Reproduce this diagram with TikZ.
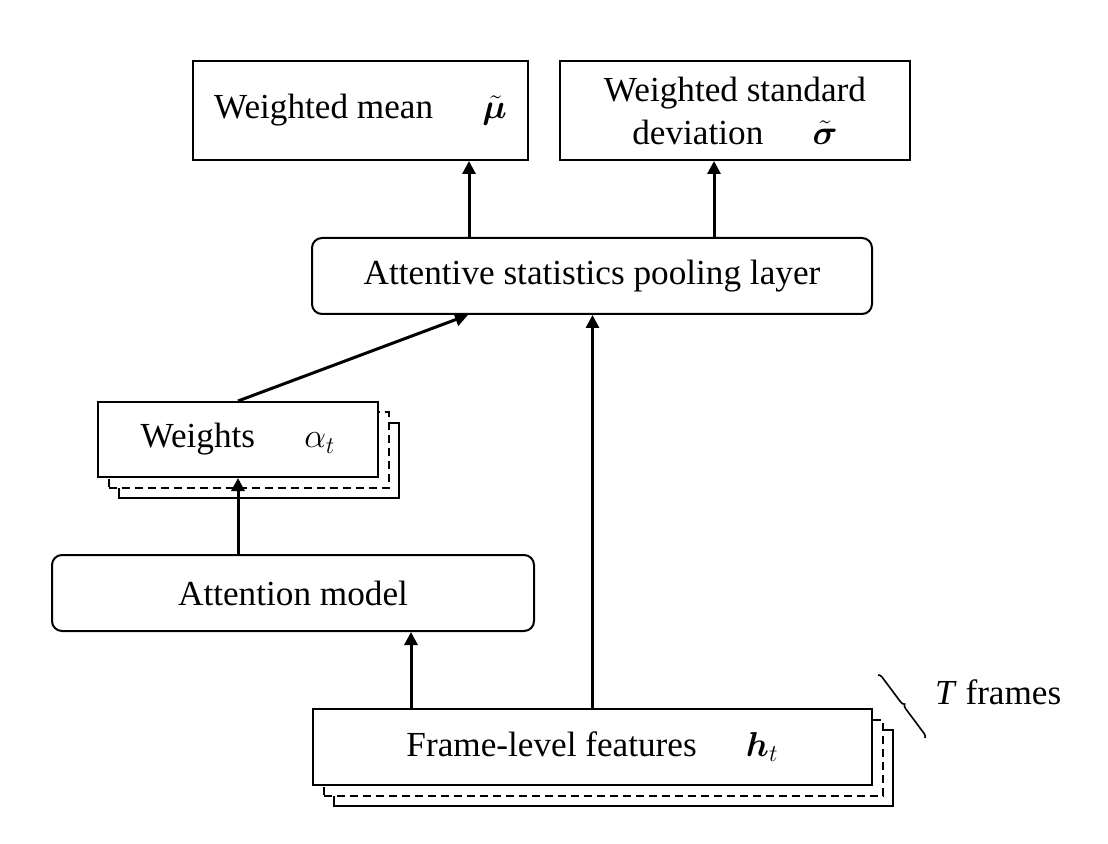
\documentclass[tikz,border=0pt]{standalone}
\usepackage{fontspec}
\setmainfont{Liberation Serif}
\usepackage{amsmath,bm}
\usetikzlibrary{shadows}
\usetikzlibrary{positioning}
\usetikzlibrary{arrows.meta,shapes}
\usetikzlibrary{decorations.pathreplacing}
\usetikzlibrary{calc}

\newcommand{\gap}{\hspace{1.4em}}

\begin{document}
\begin{tikzpicture}[x=0.5pt, y=-0.5pt,
  box/.style={draw, line width=1pt, fill=white, inner sep=0pt,
    font=\fontsize{17.6}{21.5}\selectfont, align=center},
  rbox/.style={box, rounded corners=5pt},
  stackbox/.style={box,
    general shadow={shadow xshift=10.5pt, shadow yshift=-10.5pt, draw, fill=white, line width=1pt},
    general shadow={shadow xshift=5.25pt, shadow yshift=-5.25pt, draw, fill=white, line width=1pt, dash pattern=on 4pt off 2.5pt}},
  arr/.style={line width=1.5pt, -{Triangle[length=6.5pt,width=6.5pt]}}]

\useasboundingbox (0,0) rectangle (1108,844);

\node[box, minimum width=167.5pt, minimum height=49.5pt] (mean) at (360.5,110.5)
  {Weighted mean\gap$\tilde{\bm{\mu}}$};
\node[box, minimum width=175pt, minimum height=49.5pt] (std) at (735,110.5)
  {Weighted standard\\deviation\gap$\tilde{\bm{\sigma}}$};

\node[rbox, minimum width=280pt, minimum height=38pt] (pool) at (592,276)
  {Attentive statistics pooling layer};

\node[stackbox, minimum width=140pt, minimum height=37.5pt] (wts) at (238,439.5)
  {Weights\gap$\alpha_t$};

\node[rbox, minimum width=241pt, minimum height=38pt] (att) at (293,593)
  {Attention model};

\node[stackbox, minimum width=279.5pt, minimum height=38pt] (feat) at (592.5,747)
  {Frame-level features\gap$\bm{h}_t$};

% connectors
\draw[arr] (pool.north -| 469,0) -- (mean.south -| 469,0);
\draw[arr] (pool.north -| 714,0) -- (std.south -| 714,0);
\draw[arr] (wts.north) -- (pool.south -| 468,0);
\draw[arr] (att.north -| wts.south) -- (wts.south);
\draw[arr] (feat.north -| 411,0) -- (att.south -| 411,0);
\draw[arr] (feat.north) -- (feat.north |- pool.south);

% frames brace
\coordinate (br1) at (878,675);
\coordinate (br2) at (925,738);
\draw[line width=0.8pt, decorate, decoration={brace, amplitude=2pt}] (br1) -- (br2);
\node[font=\fontsize{17.6}{21}\selectfont, anchor=west] (frames) at (928,692) {\textit{T} frames};

\end{tikzpicture}
\end{document}
